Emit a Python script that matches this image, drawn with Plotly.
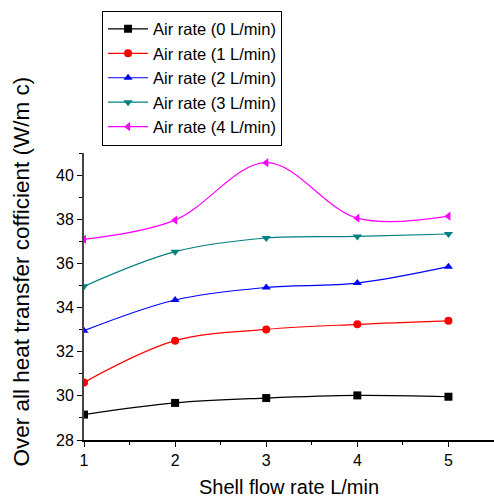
import plotly.graph_objects as go

shell_flow = [1, 2, 3, 4, 5]
air0 = [29.15, 29.68, 29.90, 30.02, 29.96]
air1 = [30.61, 32.50, 33.01, 33.24, 33.40]
air2 = [32.95, 34.34, 34.91, 35.11, 35.85]
air3 = [34.96, 36.53, 37.15, 37.22, 37.33]
air4 = [37.09, 37.96, 40.56, 38.05, 38.14]

series = [
    ("Air rate (0 L/min)", air0, "#000000", "square"),
    ("Air rate (1 L/min)", air1, "#ff0000", "circle"),
    ("Air rate (2 L/min)", air2, "#0000ff", "triangle-up"),
    ("Air rate (3 L/min)", air3, "#008080", "triangle-down"),
    ("Air rate (4 L/min)", air4, "#ff00ff", "triangle-left"),
]

fig = go.Figure()
for name, ys, color, sym in series:
    fig.add_trace(go.Scatter(
        x=shell_flow, y=ys, name=name, mode="lines+markers",
        line=dict(color=color, width=1.2, shape="spline", smoothing=1.0),
        marker=dict(symbol=sym, size=8, color=color),
    ))

fig.update_layout(
    width=494, height=499,
    margin=dict(l=84, r=0, t=153, b=59),
    paper_bgcolor="white", plot_bgcolor="white",
    font=dict(family="Arial, Liberation Sans, sans-serif", color="black"),
    showlegend=True,
    legend=dict(
        x=0.044, y=1.496, xanchor="left", yanchor="top",
        bordercolor="black", borderwidth=1, bgcolor="white",
        font=dict(size=16.5, family="Arial, Liberation Sans, sans-serif"),
        tracegroupgap=0, itemwidth=40,
    ),
    xaxis=dict(
        range=[1, 5.5], tickvals=[1, 2, 3, 4, 5],
        showgrid=False, zeroline=False,
        showline=True, linecolor="black", linewidth=1.5,
        ticks="outside", ticklen=5, tickcolor="black", tickwidth=1,
        minor=dict(tickvals=[1.5, 2.5, 3.5, 4.5, 5.5], ticks="outside", ticklen=3, tickcolor="black"),
        tickfont=dict(size=16),
        title=dict(text="Shell flow rate L/min", font=dict(size=20), standoff=12),
    ),
    yaxis=dict(
        range=[28, 41], tickvals=[28, 30, 32, 34, 36, 38, 40],
        showgrid=False, zeroline=False,
        showline=True, linecolor="#444444", linewidth=2,
        ticks="outside", ticklen=5, tickcolor="black", tickwidth=1,
        minor=dict(tickvals=[29, 31, 33, 35, 37, 39, 41], ticks="outside", ticklen=3, tickcolor="black"),
        tickfont=dict(size=16),
    ),
    annotations=[dict(
        text="Over all heat transfer cofficient (W/m c)",
        textangle=-90, xref="paper", yref="paper",
        x=(21 - 84) / 410, y=(440 - 271.5) / 287,
        xanchor="center", yanchor="middle", showarrow=False,
        font=dict(size=22.5),
    )],
)

fig.write_html("out.html")
